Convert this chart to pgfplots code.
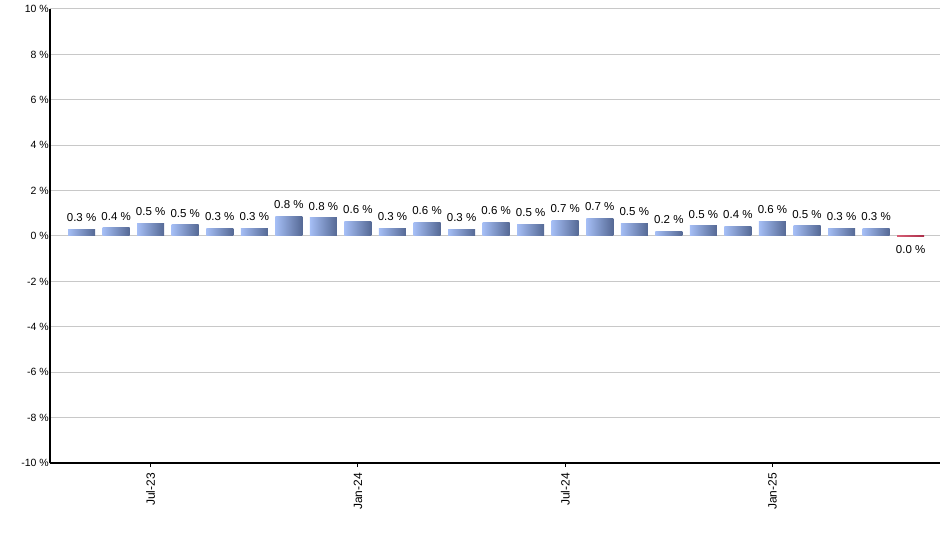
\documentclass[border=0pt]{standalone}
\usepackage{fontspec}
\setmainfont{Liberation Sans}
\usepackage{pgfplots}
\pgfplotsset{compat=1.18}
\usepackage{pgfplotstable}

\definecolor{gridgray}{RGB}{200,200,200}
\definecolor{blueA}{RGB}{110,145,220}
\definecolor{blueB}{RGB}{165,190,245}
\definecolor{blueC}{RGB}{45,62,100}
\definecolor{redA}{RGB}{235,120,140}
\definecolor{redB}{RGB}{150,20,50}
\pgfdeclarehorizontalshading{bluebar}{100bp}{color(0bp)=(blueA); color(25bp)=(blueB); color(100bp)=(blueC)}
\pgfdeclarehorizontalshading{redbar}{100bp}{color(0bp)=(redA); color(100bp)=(redB)}

% monthly change, Jun-23 ... Jun-25
\pgfplotstableread{
x y lab
0 0.30 0.3
1 0.38 0.4
2 0.57 0.5
3 0.51 0.5
4 0.34 0.3
5 0.34 0.3
6 0.87 0.8
7 0.82 0.8
8 0.65 0.6
9 0.34 0.3
10 0.61 0.6
11 0.30 0.3
12 0.61 0.6
13 0.52 0.5
14 0.70 0.7
15 0.78 0.7
16 0.57 0.5
17 0.21 0.2
18 0.47 0.5
19 0.43 0.4
20 0.65 0.6
21 0.47 0.5
22 0.34 0.3
23 0.34 0.3
}\rates

\pgfplotstableread{
x y lab
24 -0.04 0.0
}\lastrate

\begin{document}
\begin{tikzpicture}
\useasboundingbox (-50bp,-87bp) rectangle (890bp,463bp);
\begin{axis}[
    scale only axis,
    width=890bp,
    height=454bp,
    xmin=-0.915, xmax=24.85,
    ymin=-10, ymax=10,
    axis x line*=bottom,
    axis y line*=left,
    axis line style={line width=1.4bp, black},
    xtick={2,8,14,20},
    xticklabels={Jul-23,Jan-24,Jul-24,Jan-25},
    xtick align=outside,
    major tick length=4bp,
    x tick style={line width=1bp, black},
    xticklabel shift=5bp,
    x tick label style={rotate=90, anchor=east, font=\fontsize{12bp}{14bp}\selectfont, inner sep=1bp},
    ytick={-10,-8,...,10},
    yticklabels={-10 \%,-8 \%,-6 \%,-4 \%,-2 \%,0 \%,2 \%,4 \%,6 \%,8 \%,10 \%},
    y tick style={draw=none},
    y tick label style={font=\fontsize{10.5bp}{12bp}\selectfont, inner sep=1bp},
    ymajorgrids=true,
    grid style={line width=1bp, draw=gridgray},
    point meta=explicit symbolic,
    nodes near coords={\pgfplotspointmeta\ \%},
    every node near coord/.append style={font=\fontsize{11.5bp}{13bp}\selectfont, inner sep=2bp},
]
% one plot per bar, so that each bar gets its own shading
\pgfplotsinvokeforeach{0,...,23}{
\addplot[ybar, bar width=27bp, bar shift=0pt, draw=none, shading=bluebar,
    x filter/.expression={abs(x-#1)<0.1 ? x : nan},
    every node near coord/.append style={yshift=5bp}]
    table[x=x, y=y, meta=lab] {\rates};
}
\addplot[ybar, bar width=27bp, bar shift=0pt, draw=none, shading=redbar,
    every node near coord/.append style={anchor=north, yshift=-6bp}]
    table[x=x, y=y, meta=lab] {\lastrate};
\end{axis}
\end{tikzpicture}
\end{document}
